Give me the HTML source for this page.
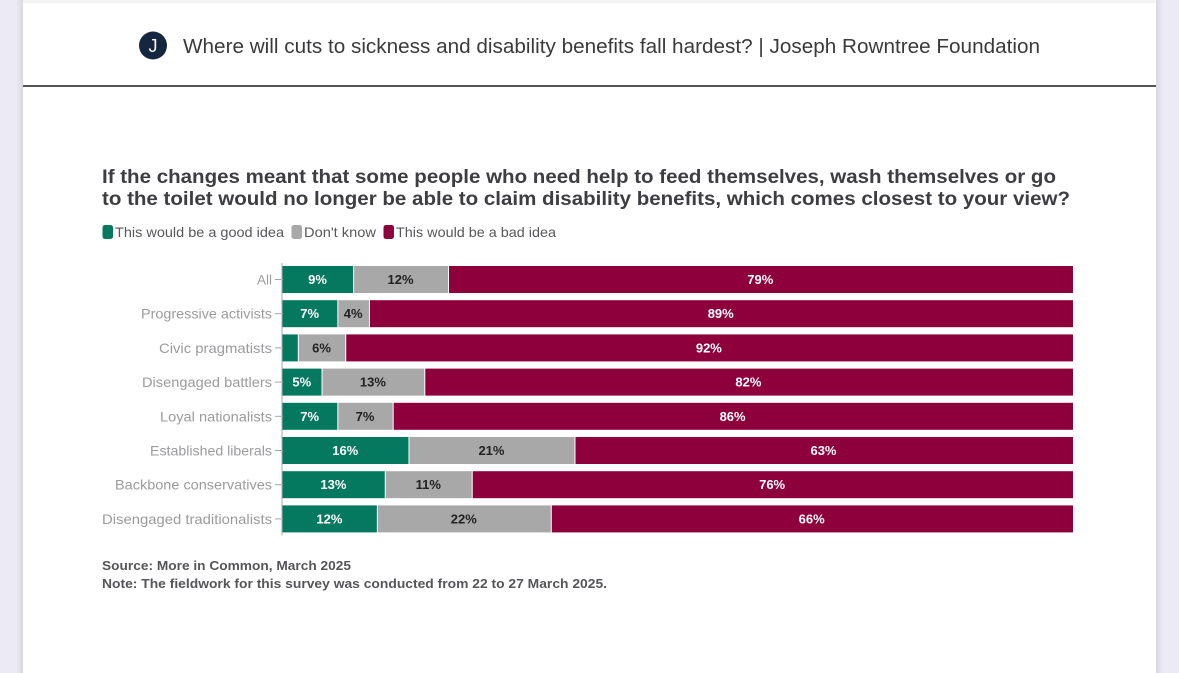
<!DOCTYPE html>
<html lang="en">
<head>
<meta charset="utf-8">
<title>Where will cuts to sickness and disability benefits fall hardest?</title>
<style>
html,body{margin:0;padding:0;width:1179px;height:673px;overflow:hidden;background:#ecebf3;}
svg{display:block;font-family:"Liberation Sans",sans-serif;}
</style>
</head>
<body>
<svg id="chart" xmlns="http://www.w3.org/2000/svg" width="1179" height="673" viewBox="0 0 1179 673">
  <defs>
    <linearGradient id="edge-left" x1="0" x2="1" y1="0" y2="0"><stop offset="0" stop-color="#ecebf3"/><stop offset="1" stop-color="#d9d8de"/></linearGradient>
    <linearGradient id="edge-right" x1="0" x2="1" y1="0" y2="0"><stop offset="0" stop-color="#d9d8de"/><stop offset="1" stop-color="#ecebf3"/></linearGradient>
  </defs>
  <rect x="16" y="0" width="7" height="673" fill="url(#edge-left)"/>
  <rect x="1156" y="0" width="7" height="673" fill="url(#edge-right)"/>
  <rect x="23" y="0" width="1133" height="673" fill="#ffffff"/>
  <rect x="23" y="0" width="1133" height="3" fill="#f3f3f4"/>

  <circle cx="153" cy="45.500" r="14" fill="#15273f"/>
  <text x="153" y="52" text-anchor="middle" font-size="18" fill="#ffffff">J</text>
  <text x="183" y="53" font-size="20" fill="#3a3a3c" textLength="857" lengthAdjust="spacingAndGlyphs">Where will cuts to sickness and disability benefits fall hardest? | Joseph Rowntree Foundation</text>
  <rect x="23" y="85" width="1133" height="2" fill="#555558"/>

  <text x="102" y="183" font-size="19" font-weight="700" fill="#3d3d42" textLength="954" lengthAdjust="spacingAndGlyphs">If the changes meant that some people who need help to feed themselves, wash themselves or go</text>
  <text x="102" y="205" font-size="19" font-weight="700" fill="#3d3d42" textLength="968" lengthAdjust="spacingAndGlyphs">to the toilet would no longer be able to claim disability benefits, which comes closest to your view?</text>

  <g id="legend"></g>
  <g id="bars"></g>
  <g id="axis"></g>

  <text x="102" y="570" font-size="13" font-weight="700" fill="#56565a" textLength="249" lengthAdjust="spacingAndGlyphs">Source: More in Common, March 2025</text>
  <text x="102" y="588" font-size="13" font-weight="700" fill="#56565a" textLength="505" lengthAdjust="spacingAndGlyphs">Note: The fieldwork for this survey was conducted from 22 to 27 March 2025.</text>
</svg>
<script>
var categories = ["All", "Progressive activists", "Civic pragmatists", "Disengaged battlers", "Loyal nationalists", "Established liberals", "Backbone conservatives", "Disengaged traditionalists"];
var goodIdea = [9, 7, 2, 5, 7, 16, 13, 12];
var dontKnow = [12, 4, 6, 13, 7, 21, 11, 22];
var badIdea = [79, 89, 92, 82, 86, 63, 76, 66];
var seriesNames = ["This would be a good idea", "Don't know", "This would be a bad idea"];
var minLabelValue = 3;

var NS = "http://www.w3.org/2000/svg";
var plotLeft = 282.5, plotRight = 1073, plotTop = 266, rowStep = 34.2, barHeight = 27;
var colors = ["#05795f", "#a8a8a8", "#8e003b"];
var labelColors = ["#ffffff", "#222222", "#ffffff"];
var categoryWidths = [15, 131, 113, 130, 112, 122, 157, 170];
var legendLayout = [[102, 115, 169], [291, 304, 72], [383, 396, 160]];

function xScale(v) { return plotLeft + (plotRight - plotLeft) * v / 100; }
function yScale(i) { return plotTop + rowStep * i; }
function make(tag, attrs, parent) {
  var el = document.createElementNS(NS, tag);
  for (var k in attrs) el.setAttribute(k, attrs[k]);
  parent.appendChild(el);
  return el;
}

var barsGroup = document.getElementById("bars");
var axisGroup = document.getElementById("axis");
var legendGroup = document.getElementById("legend");
var series = [goodIdea, dontKnow, badIdea];
var seriesKeys = ["good-idea", "dont-know", "bad-idea"];

categories.forEach(function (cat, i) {
  var slug = cat.toLowerCase().replace(/\s+/g, "-");
  var cum = 0;
  series.forEach(function (vals, s) {
    var v = vals[i];
    var x0 = xScale(cum), x1 = xScale(cum + v);
    var gapStart = s ? 0.5 : 0;
    var gapEnd = s < 2 ? 0.5 : 0;
    var rect = make("rect", { x: x0 + gapStart, y: yScale(i), width: Math.max(0, x1 - x0 - gapStart - gapEnd), height: barHeight, fill: colors[s] }, barsGroup);
    
    
    if (v >= minLabelValue) {
      var t = make("text", { x: (x0 + x1) / 2 - 0.5, y: yScale(i) + barHeight / 2 + 4.5, "text-anchor": "middle", "font-size": 13, "font-weight": 700, fill: labelColors[s] }, barsGroup);
      t.textContent = v + "%";
      
      
    }
    cum += v;
  });

  var label = make("text", { x: 272, y: yScale(i) + barHeight / 2 + 5, "text-anchor": "end", "font-size": 14, fill: "#9b9b9e", textLength: categoryWidths[i], lengthAdjust: "spacingAndGlyphs" }, axisGroup);
  label.textContent = cat;
  
  

  var tick = make("line", { x1: 275, x2: 283, y1: yScale(i) + barHeight / 2, y2: yScale(i) + barHeight / 2, stroke: "#a5a5a8", "stroke-width": 1 }, axisGroup);
  
  
});

var axisLine = make("line", { x1: 282, x2: 282, y1: plotTop - 3, y2: yScale(categories.length - 1) + barHeight + 3, stroke: "#a5a5a8", "stroke-width": 1 }, axisGroup);



seriesNames.forEach(function (name, s) {
  var pos = legendLayout[s];
  var swatch = make("rect", { x: pos[0] + 0.5, y: 225, width: 10.5, height: 14, rx: 2.5, fill: colors[s] }, legendGroup);
  
  
  var text = make("text", { x: pos[1], y: 237, "font-size": 14, fill: "#58585c", textLength: pos[2], lengthAdjust: "spacingAndGlyphs" }, legendGroup);
  text.textContent = name;
  
  
});
</script>
</body>
</html>
